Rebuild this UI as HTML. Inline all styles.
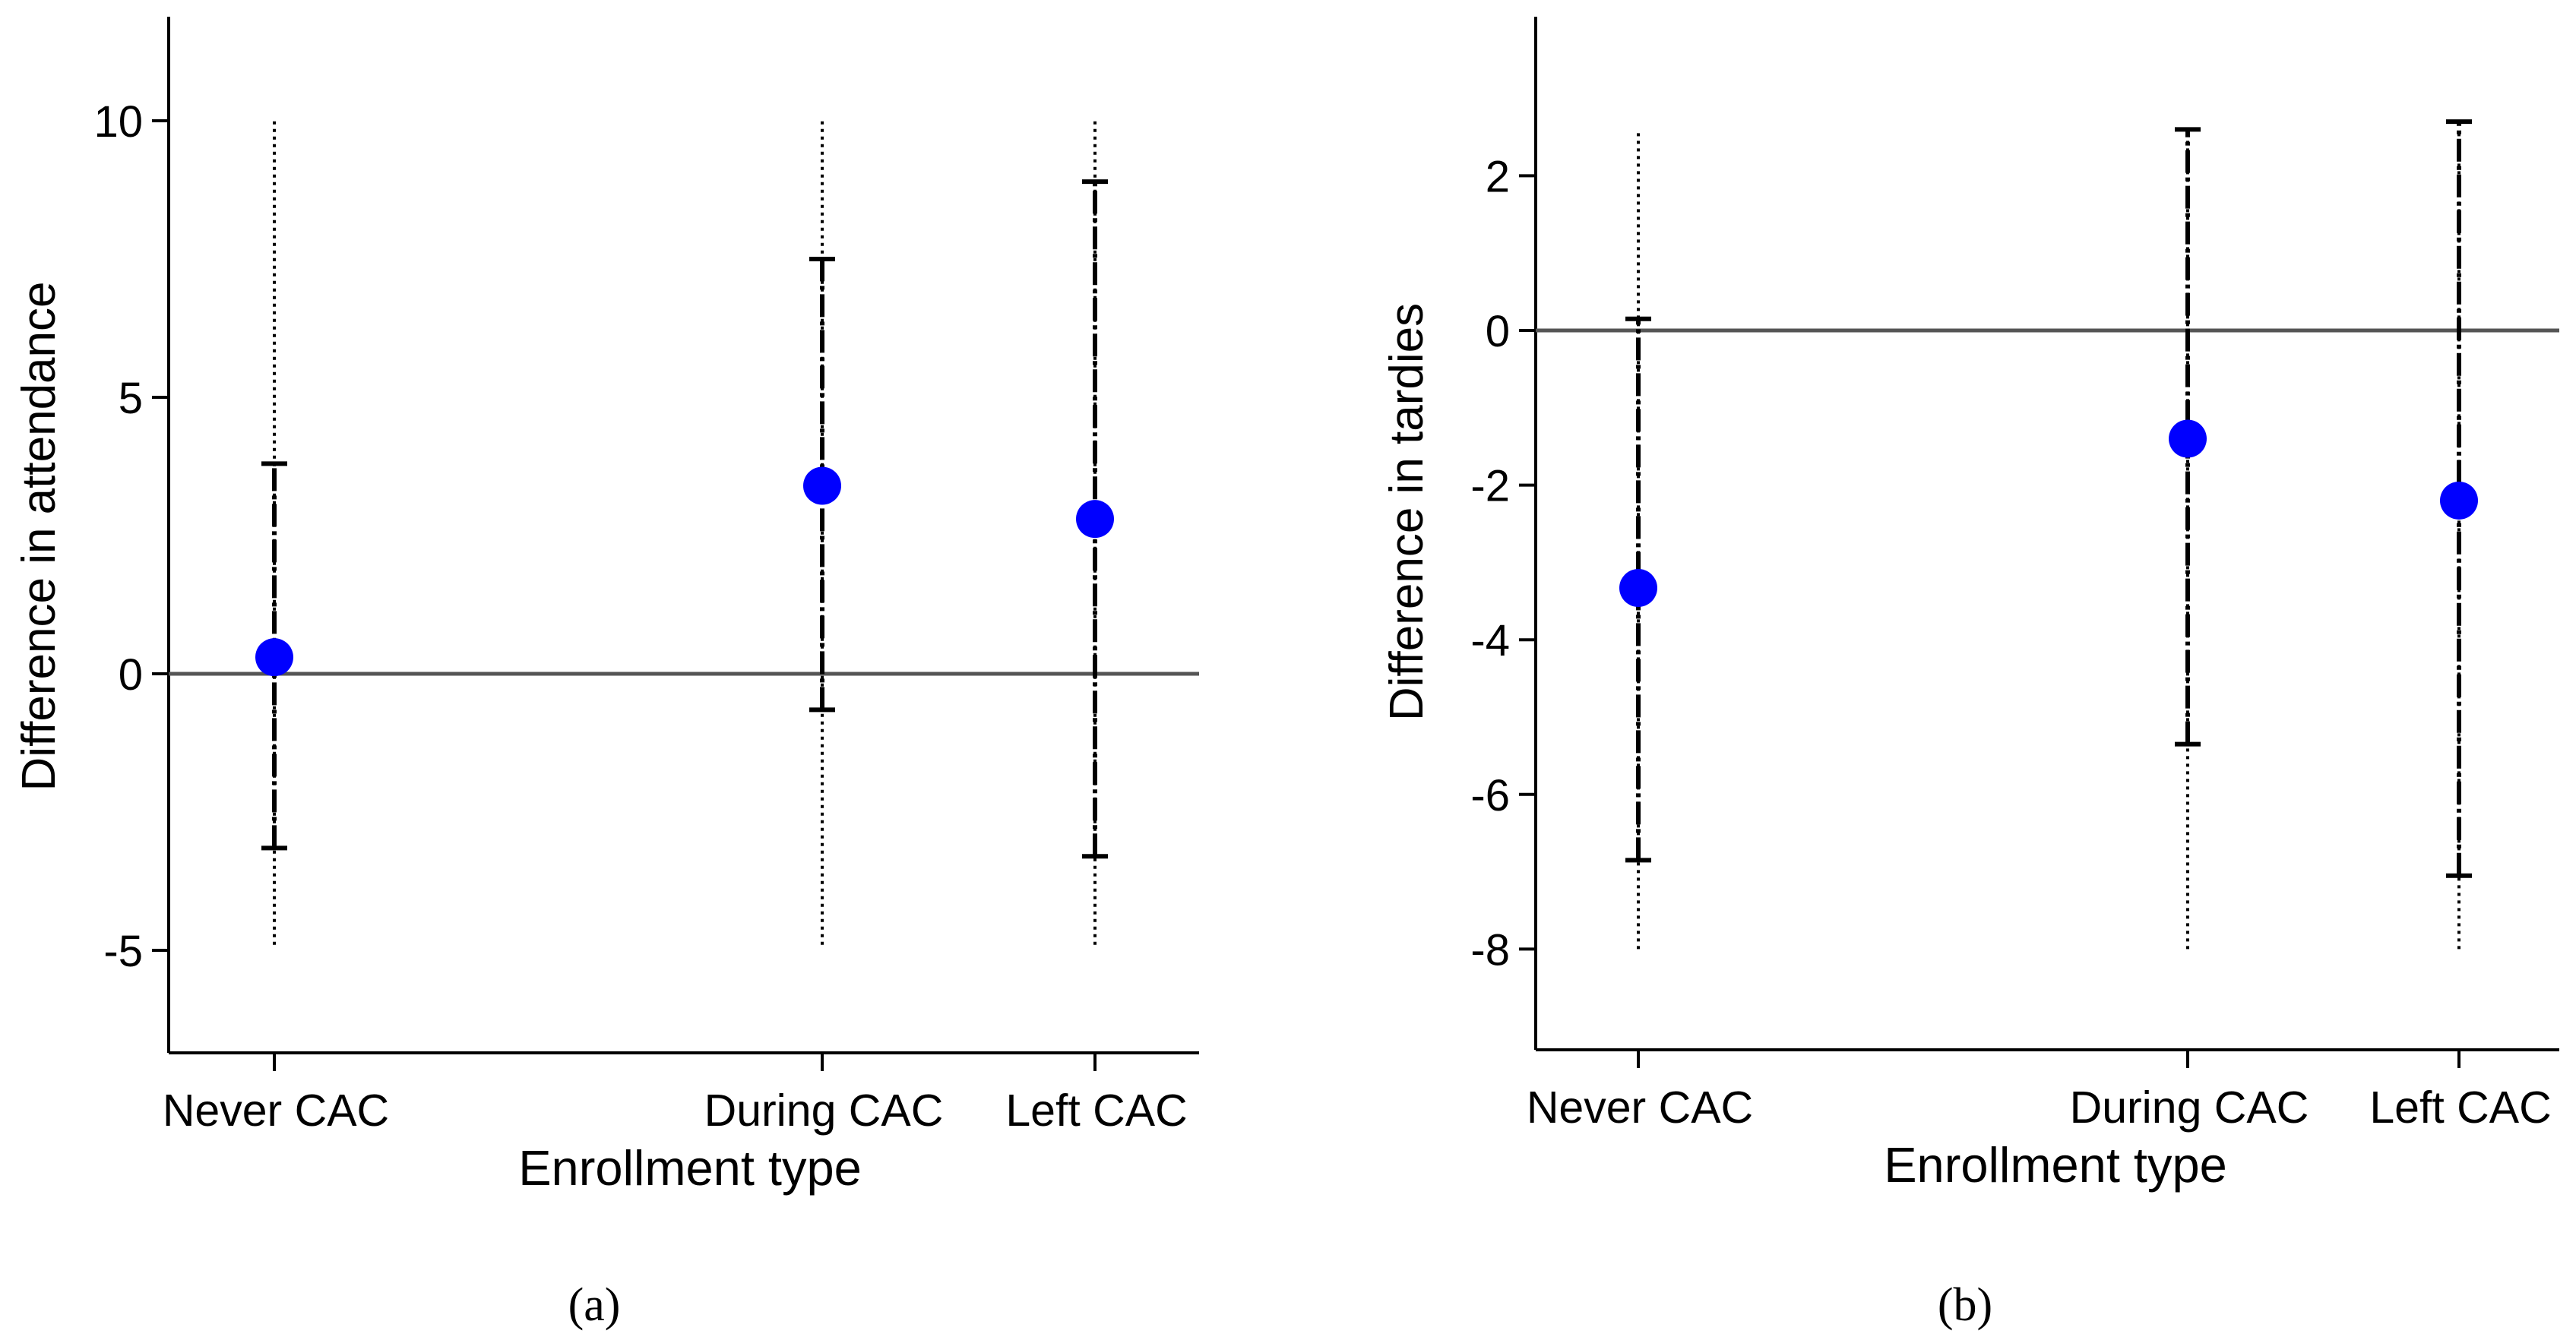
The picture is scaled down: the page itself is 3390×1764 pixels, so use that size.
<!DOCTYPE html>
<html><head><meta charset="utf-8"><style>
body{margin:0;background:#fff;}
svg{display:block;font-family:"Liberation Sans",sans-serif;}
</style></head><body>
<svg id="chart" width="3390" height="1764" viewBox="0 0 3390 1764"></svg>
<script>
const categories = ["Never CAC","During CAC","Left CAC"];
const attPoint = [0.3, 3.4, 2.8];
const attLow = [-3.15, -0.65, -3.3];
const attHigh = [3.8, 7.5, 8.9];
const attDotLow = [-4.9, -4.9, -4.9];
const attDotHigh = [10, 10, 10];
const attTicks = [10, 5, 0, -5];
const tarPoint = [-3.33, -1.4, -2.2];
const tarLow = [-6.85, -5.35, -7.05];
const tarHigh = [0.15, 2.6, 2.7];
const tarDotLow = [-8, -8, -8];
const tarDotHigh = [2.6, 2.6, 2.6];
const tarTicks = [2, 0, -2, -4, -6, -8];

const NS = "http://www.w3.org/2000/svg";
const svg = document.getElementById("chart");
function mk(tag, attrs, parent, text){
  const e = document.createElementNS(NS, tag);
  for (const k in attrs) e.setAttribute(k, attrs[k]);
  if (text !== undefined) e.textContent = text;
  (parent || svg).appendChild(e);
  return e;
}

function panel(cfg){
  const g = mk("g", {});
  
  
  const y = v => cfg.y0 - v * cfg.ppu;
  const x = i => cfg.xs[i];
  const ya = mk("line", {x1:cfg.ax, y1:cfg.top, x2:cfg.ax, y2:cfg.bottom, stroke:"#000","stroke-width":4}, g);
  
  
  const xa = mk("line", {x1:cfg.ax, y1:cfg.bottom, x2:cfg.right, y2:cfg.bottom, stroke:"#000","stroke-width":4}, g);
  
  
  cfg.ticks.forEach(t => {
    const tk = mk("line", {x1:cfg.ax-22, y1:y(t), x2:cfg.ax, y2:y(t), stroke:"#000","stroke-width":4}, g);
    
    
    const tl = mk("text", {x:cfg.ax-34, y:y(t)+21, "text-anchor":"end","font-size":58}, g, String(t));
    
    
  });
  const zl = mk("line", {x1:cfg.ax, y1:y(0), x2:cfg.right, y2:y(0), stroke:"#555","stroke-width":5}, g);
  
  
  categories.forEach((c, i) => {
    const tk = mk("line", {x1:x(i), y1:cfg.bottom, x2:x(i), y2:cfg.bottom+24, stroke:"#000","stroke-width":4}, g);
    
    
    const tl = mk("text", {x:x(i)+2, y:cfg.bottom+96, "text-anchor":"middle","font-size":59}, g, c);
    
    
  });
  categories.forEach((c, i) => {
    const dl = mk("line", {x1:x(i), y1:y(cfg.dLo[i]), x2:x(i), y2:y(cfg.dHi[i]), stroke:"#000","stroke-width":4,"stroke-dasharray":"4 6"}, g);
    
    
    const cl = mk("line", {x1:x(i), y1:y(cfg.lo[i]), x2:x(i), y2:y(cfg.hi[i]), stroke:"#000","stroke-width":6,"stroke-dasharray":"30 6 5 6"}, g);
    
    
    [cfg.lo[i], cfg.hi[i]].forEach(v => {
      const cap = mk("line", {x1:x(i)-17, y1:y(v), x2:x(i)+17, y2:y(v), stroke:"#000","stroke-width":6}, g);
      
      
    });
    const pt = mk("circle", {cx:x(i), cy:y(cfg.pt[i]), r:25, fill:"#0000ff"}, g);
    
    
  });
  const xt = mk("text", {x:cfg.xtx, y:cfg.bottom+174, "text-anchor":"middle","font-size":65}, g, "Enrollment type");
  
  
  const yt = mk("text", {x:0, y:0, "text-anchor":"middle","font-size":62, transform:`translate(${cfg.ytx},${cfg.yty}) rotate(-90)`}, g, cfg.ytitle);
  
  
  const cap = mk("text", {x:cfg.capx, y:1738, "text-anchor":"middle","font-size":62,"font-family":"Liberation Serif, serif"}, g, cfg.caption);
  
  
}

panel({name:"attendance-panel", ax:222, top:22, bottom:1386, right:1578, y0:887, ppu:72.8,
  xs:[361,1082,1441], ticks:attTicks, pt:attPoint, lo:attLow, hi:attHigh, dLo:attDotLow, dHi:attDotHigh,
  xtx:908, ytx:72, yty:706, ytitle:"Difference in attendance", capx:782, caption:"(a)"});
panel({name:"tardies-panel", ax:2021, top:22, bottom:1382, right:3368, y0:435, ppu:101.8,
  xs:[2156,2879,3236], ticks:tarTicks, pt:tarPoint, lo:tarLow, hi:tarHigh, dLo:tarDotLow, dHi:tarDotHigh,
  xtx:2705, ytx:1872, yty:674, ytitle:"Difference in tardies", capx:2586, caption:"(b)"});
</script>
</body></html>
